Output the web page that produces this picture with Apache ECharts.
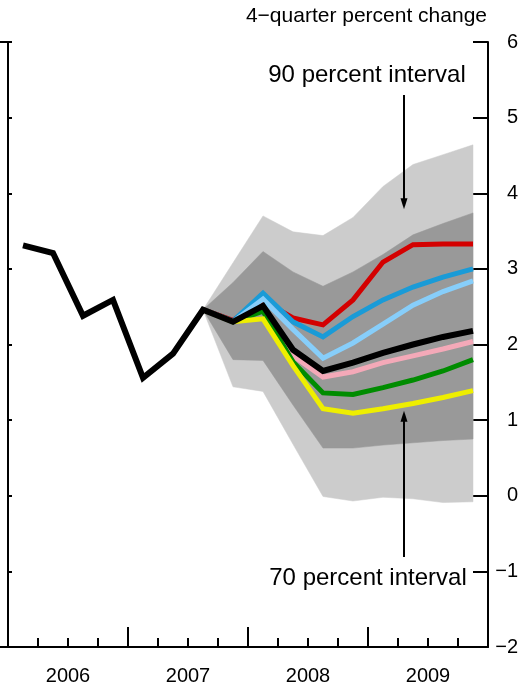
<!DOCTYPE html>
<html>
<head>
<meta charset="utf-8">
<script src="https://cdn.jsdelivr.net/npm/echarts@6/dist/echarts.min.js"></script>
<style>
html,body{margin:0;padding:0;background:#fff;}
#chart{width:522px;height:690px;}
</style>
</head>
<body>
<div id="chart"></div>
<script>
// ---- Data ----
const years = ['2006', '2007', '2008', '2009'];
const quarters = ['2006Q1','2006Q2','2006Q3','2006Q4','2007Q1','2007Q2','2007Q3','2007Q4',
                  '2008Q1','2008Q2','2008Q3','2008Q4','2009Q1','2009Q2','2009Q3','2009Q4'];
const yTicks = [-2, -1, 0, 1, 2, 3, 4, 5, 6];

// black: actual history + baseline forecast (all 16 quarters)
const baseline = [3.31, 3.21, 2.38, 2.59, 1.56, 1.88, 2.46, 2.30, 2.51, 1.93, 1.65, 1.76, 1.89, 2.00, 2.10, 2.18];

// forecast period starts at 2007Q3 (index 6)
const fanStart = 6;
const upper90 = [2.46, 3.08, 3.70, 3.49, 3.44, 3.68, 4.09, 4.38, 4.51, 4.64];
const upper70 = [2.46, 2.82, 3.23, 2.96, 2.77, 2.96, 3.19, 3.45, 3.60, 3.74];
const lower70 = [2.46, 1.80, 1.79, 1.20, 0.63, 0.63, 0.67, 0.70, 0.73, 0.75];
const lower90 = [2.46, 1.44, 1.38, 0.68, -0.01, -0.07, -0.02, -0.04, -0.09, -0.08];

const redPath       = [2.46, 2.32, 2.58, 2.35, 2.26, 2.59, 3.09, 3.32, 3.33, 3.33];
const bluePath      = [2.46, 2.31, 2.68, 2.30, 2.10, 2.37, 2.59, 2.76, 2.89, 3.00];
const lightBluePath = [2.46, 2.30, 2.60, 2.20, 1.82, 2.02, 2.27, 2.52, 2.70, 2.84];
const pinkPath      = [2.46, 2.30, 2.45, 1.85, 1.57, 1.64, 1.76, 1.85, 1.94, 2.04];
const greenPath     = [2.46, 2.30, 2.44, 1.77, 1.36, 1.34, 1.43, 1.53, 1.65, 1.80];
const yellowPath    = [2.46, 2.30, 2.34, 1.72, 1.15, 1.09, 1.15, 1.22, 1.30, 1.39];

// ---- Helpers ----
const xOf = i => i + 0.5; // centre of quarter i
const fullPairs = arr => arr.map((v, i) => [xOf(i), v]);
const fanPairs = arr => arr.map((v, i) => [xOf(i + fanStart), v]);
const bandRows = (lo, hi) => lo.map((v, i) => [xOf(i + fanStart), v, hi[i]]);

const FONT = "'Liberation Sans', Arial, Helvetica, sans-serif";

function pathSeries(name, arr, color, width, z) {
  return {
    name, type: 'line', data: fanPairs(arr), xAxisIndex: 0, yAxisIndex: 0,
    showSymbol: false, symbol: 'none', z: z || 5,
    lineStyle: { color, width, join: 'miter', cap: 'butt' },
    silent: true
  };
}
// A band between two bounds drawn as a single polygon through the axis scales
function bandSeries(name, lo, hi, color, z) {
  const rows = bandRows(lo, hi);
  return {
    name, type: 'custom', xAxisIndex: 0, yAxisIndex: 0, z: z, silent: true,
    data: rows,
    encode: { x: 0, y: [1, 2] },
    renderItem: function (params, api) {
      if (params.dataIndex !== 0) return null;
      const top = rows.map(r => api.coord([r[0], r[2]]));
      const bottom = rows.map(r => api.coord([r[0], r[1]])).reverse();
      return {
        type: 'polygon',
        shape: { points: top.concat(bottom) },
        style: { fill: color, stroke: color, lineWidth: 0.5 }
      };
    }
  };
}

const chart = echarts.init(document.getElementById('chart'), null, { renderer: 'canvas' });

const option = {
  animation: false,
  backgroundColor: '#fff',
  textStyle: { fontFamily: FONT },
  grid: { left: 8, right: 34, top: 42, bottom: 43, containLabel: false },
  xAxis: [
    {
      type: 'value', min: 0, max: quarters.length, interval: 4, position: 'bottom',
      axisLine: { show: true, onZero: false, lineStyle: { color: '#000', width: 2 } },
      axisTick: { show: true, inside: true, length: 20, lineStyle: { color: '#000', width: 2 } },
      minorTick: { show: true, splitNumber: 4, length: 9, lineStyle: { color: '#000', width: 2 } },
      axisLabel: { show: false },
      splitLine: { show: false }, minorSplitLine: { show: false }
    },
    {
      type: 'value', min: 0, max: quarters.length, interval: 2, position: 'bottom',
      axisLine: { show: false }, axisTick: { show: false }, splitLine: { show: false },
      axisLabel: {
        show: true, fontSize: 20, color: '#000', fontFamily: FONT, margin: 19,
        formatter: v => ((v - 2) % 4 === 0 ? years[(v - 2) / 4] : '') || ''
      }
    }
  ],
  yAxis: [
    {
      type: 'value', min: yTicks[0], max: yTicks[yTicks.length - 1], interval: 1, position: 'right',
      axisLine: { show: true, onZero: false, lineStyle: { color: '#000', width: 2 } },
      axisTick: { show: true, inside: true, length: 15, lineStyle: { color: '#000', width: 2 } },
      axisLabel: {
        show: true, fontSize: 20, color: '#000', fontFamily: FONT, align: 'right', margin: 30,
        formatter: v => String(v).replace('-', '\u2212')
      },
      splitLine: { show: false }
    },
    {
      type: 'value', min: yTicks[0], max: yTicks[yTicks.length - 1], interval: 1, position: 'left',
      axisLine: { show: true, onZero: false, lineStyle: { color: '#000', width: 2 } },
      axisTick: { show: true, inside: true, length: 4, lineStyle: { color: '#000', width: 2 } },
      axisLabel: { show: false }, splitLine: { show: false }
    },
    {
      type: 'value', min: 0, max: 8, interval: 8, position: 'right',
      axisLine: { show: false },
      axisTick: { show: true, inside: true, length: 26, lineStyle: { color: '#000', width: 2 } },
      axisLabel: { show: false }, splitLine: { show: false }
    }
  ],
  series: [
    bandSeries('90 percent interval', lower90, upper90, '#cccccc', 1),
    bandSeries('70 percent interval', lower70, upper70, '#999999', 2),
    pathSeries('red', redPath, '#d40000', 5, 5),
    pathSeries('blue', bluePath, '#1a9bd7', 5, 5),
    pathSeries('lightblue', lightBluePath, '#87cefa', 5, 5),
    pathSeries('pink', pinkPath, '#f4a9b8', 5, 5),
    pathSeries('green', greenPath, '#008c00', 5, 5),
    pathSeries('yellow', yellowPath, '#eeee00', 5, 5),
    {
      name: 'baseline', type: 'line', data: fullPairs(baseline), xAxisIndex: 0, yAxisIndex: 0,
      showSymbol: false, symbol: 'none', z: 6, silent: true,
      lineStyle: { color: '#000', width: 6, join: 'miter', cap: 'butt' }
    },
    {
      name: 'annotations', type: 'line', data: [], xAxisIndex: 0, yAxisIndex: 0, z: 7,
      markLine: {
        silent: true, animation: false,
        symbol: ['none', 'triangle'], symbolSize: [7, 11],
        label: { show: false },
        lineStyle: { color: '#000', width: 2, type: 'solid' },
        data: [
          [{ coord: [13.2, 5.30] }, { coord: [13.2, 3.86] }],
          [{ coord: [13.2, -0.81] }, { coord: [13.2, 1.05] }]
        ]
      }
    }
  ],
  graphic: [
    { type: 'text', z: 100, x: 487, y: 16, style: { text: '4\u2212quarter percent change', font: '21px ' + FONT, fill: '#000', textAlign: 'right', textVerticalAlign: 'middle' } },
    { type: 'text', z: 100, x: 367, y: 75, style: { text: '90 percent interval', font: '24px ' + FONT, fill: '#000', textAlign: 'center', textVerticalAlign: 'middle' } },
    { type: 'text', z: 100, x: 368, y: 578, style: { text: '70 percent interval', font: '24px ' + FONT, fill: '#000', textAlign: 'center', textVerticalAlign: 'middle' } }
  ]
};
chart.setOption(option);
</script>
</body>
</html>
